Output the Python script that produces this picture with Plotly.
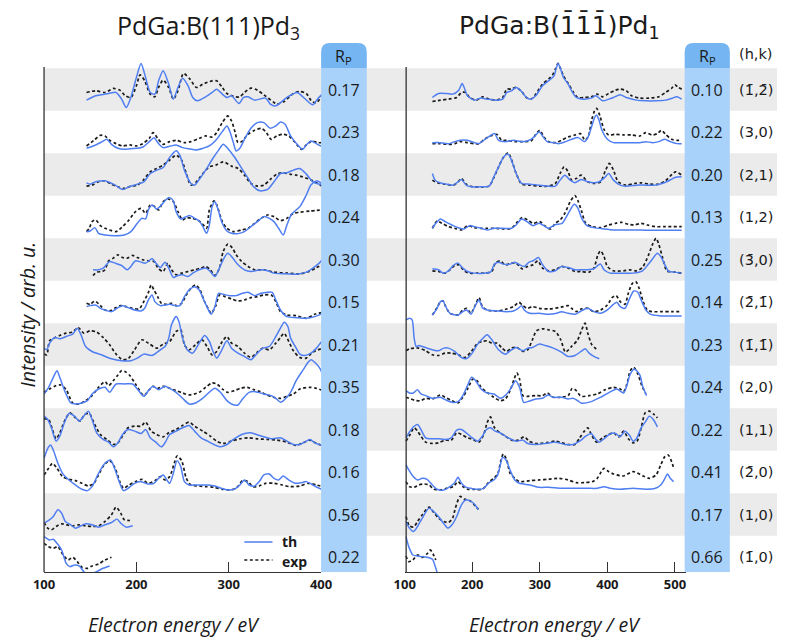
import plotly.graph_objects as go

# ---------------- data (energy in eV, intensity in arb. u.; one row = 127.5 arb. u.) ----------------
row_labels_hk = ["(1\u0304,2\u0304)", "(3,0)", "(2,1)", "(1,2)", "(3\u0304,0)", "(2\u0304,1\u0304)",
                 "(1\u0304,1\u0304)", "(2,0)", "(1,1)", "(2\u0304,0)", "(1,0)", "(1\u0304,0)"]
rp_left = [0.17, 0.23, 0.18, 0.24, 0.30, 0.15, 0.21, 0.35, 0.18, 0.16, 0.56, 0.22]
rp_right = [0.10, 0.22, 0.20, 0.13, 0.25, 0.14, 0.23, 0.24, 0.22, 0.41, 0.17, 0.66]
ticks_left = [100, 200, 300, 400]
ticks_right = [100, 200, 300, 400, 500]

L01_th = [(146,32),(156,45),(170,52),(178,55),(184,35),(189,10),(194,40),(200,100),(205,142),(209,110),(215,55),(220,50),(224,90),(229,120),(235,80),(240,35),(245,70),(250,98),(256,75),(261,40),(266,30),(275,42),(282,55),(287,65),(293,50),(298,40),(303,45),(311,22),(316,40),(321,42),(328,32),(340,38),(345,20),(351,15),(363,40),(374,55),(381,40),(391,18),(396,35),(402,52)]
L01_exp = [(146,55),(156,60),(166,55),(175,67),(182,62),(188,45),(194,40),(200,75),(204,108),(209,90),(215,50),(220,42),(224,70),(229,92),(235,70),(240,35),(245,60),(251,112),(258,95),(265,70),(272,80),(282,90),(287,90),(293,70),(298,52),(307,42),(312,42),(317,55),(324,68),(331,62),(338,48),(349,25),(352,20),(360,28),(370,52),(377,58),(384,52),(390,28),(395,25),(402,50)]
L02_th = [(146,15),(156,25),(163,35),(168,42),(173,27),(180,15),(187,12),(194,14),(201,15),(207,19),(214,35),(219,47),(224,29),(229,17),(236,21),(243,25),(250,17),(258,13),(265,10),(272,15),(279,22),(286,39),(293,65),(298,82),(301,67),(305,32),(308,7),(312,15),(317,42),(324,75),(331,92),(338,92),(345,75),(351,82),(356,94),(361,87),(367,52),(374,27),(380,12),(384,25),(389,37),(396,27),(402,19)]
L02_exp = [(146,22),(154,39),(161,54),(166,52),(171,39),(178,29),(185,22),(193,25),(200,22),(207,29),(214,45),(218,62),(223,45),(229,27),(236,35),(243,39),(252,32),(259,35),(268,45),(275,52),(282,49),(287,62),(293,92),(299,112),(303,97),(307,62),(310,32),(314,35),(321,57),(328,69),(335,75),(340,65),(346,42),(352,52),(359,57),(365,52),(372,32),(379,12),(384,25),(390,37),(396,32),(402,32)]
L03_th = [(146,39),(150,35),(156,42),(166,45),(177,32),(185,19),(192,27),(201,35),(208,42),(215,67),(222,77),(229,85),(236,115),(243,135),(247,122),(252,77),(259,37),(263,32),(268,49),(275,77),(282,109),(289,137),(294,155),(299,142),(306,117),(313,87),(320,57),(327,27),(334,15),(342,19),(349,42),(356,67),(363,69),(370,77),(377,82),(384,65),(391,42),(402,32)]
L03_exp = [(146,29),(152,32),(159,42),(166,45),(173,35),(180,27),(187,22),(194,29),(201,32),(208,49),(215,72),(222,82),(229,92),(236,107),(243,122),(249,107),(254,67),(259,32),(265,42),(272,67),(279,87),(286,92),(294,102),(303,89),(310,82),(317,62),(324,37),(331,29),(338,32),(345,49),(352,65),(359,69),(366,65),(373,62),(380,57),(391,45),(402,27)]
L04_th = [(146,20),(150,22),(155,32),(159,15),(166,10),(177,8),(187,10),(194,20),(201,45),(206,60),(210,58),(213,85),(217,100),(222,88),(227,100),(233,118),(236,122),(240,112),(243,80),(248,58),(254,65),(258,68),(263,60),(268,52),(272,35),(276,15),(279,40),(282,95),(285,110),(288,90),(293,45),(298,22),(303,15),(310,14),(317,20),(324,35),(331,50),(338,65),(344,60),(349,50),(354,30),(359,10),(363,40),(368,72),(377,95),(384,130),(389,160),(395,172),(399,168),(402,160)]
L04_exp = [(146,20),(149,30),(152,50),(156,55),(161,38),(166,30),(171,25),(178,20),(185,35),(192,55),(199,80),(205,90),(210,75),(215,100),(220,95),(224,85),(229,110),(234,118),(240,110),(245,80),(250,55),(254,62),(260,60),(266,55),(271,45),(276,30),(279,85),(284,112),(287,100),(293,50),(298,30),(305,20),(314,25),(321,30),(328,45),(335,60),(342,70),(349,65),(356,53),(363,60),(370,75),(377,78),(388,82),(402,85)]
L05_th = [(153,33),(159,33),(164,38),(168,50),(171,58),(177,53),(184,46),(190,33),(194,43),(199,60),(205,56),(210,53),(217,66),(222,50),(226,40),(231,56),(235,38),(240,10),(245,16),(250,18),(256,13),(261,23),(268,33),(275,38),(280,28),(285,13),(289,33),(294,63),(299,83),(305,66),(310,48),(317,33),(324,28),(335,33),(342,30),(349,23),(359,21),(373,20),(384,26),(391,38),(398,53),(402,66)]
L05_exp = [(153,16),(157,26),(163,28),(166,33),(170,60),(175,68),(180,78),(185,70),(190,68),(196,76),(201,70),(207,63),(213,60),(219,58),(224,36),(229,28),(234,53),(238,33),(243,18),(249,23),(256,28),(263,33),(270,38),(275,43),(280,33),(285,16),(290,38),(294,88),(299,110),(304,98),(308,78),(314,58),(321,43),(328,33),(338,33),(349,26),(363,23),(377,21),(387,28),(394,38),(402,50)]
L06_th = [(146,50),(150,53),(156,55),(161,45),(166,40),(173,35),(180,47),(185,53),(191,47),(198,40),(205,37),(209,45),(213,70),(217,85),(220,65),(226,53),(231,55),(236,57),(242,53),(247,53),(252,80),(257,100),(263,110),(268,100),(273,70),(278,40),(281,27),(285,50),(289,90),(294,87),(301,83),(308,83),(315,90),(321,93),(328,83),(335,90),(342,93),(347,93),(351,70),(356,40),(363,20),(373,17),(384,15),(393,20),(402,30)]
L06_exp = [(146,60),(150,57),(155,67),(161,53),(166,40),(171,37),(178,47),(183,53),(189,50),(196,45),(203,43),(208,65),(213,93),(216,115),(219,100),(223,80),(227,60),(233,57),(238,60),(243,53),(249,60),(254,85),(259,105),(264,115),(269,100),(273,70),(278,43),(281,30),(286,53),(290,85),(296,80),(303,73),(310,67),(317,70),(324,77),(331,80),(338,85),(346,85),(351,65),(356,35),(363,25),(373,23),(384,15),(393,27),(402,33)]
L07_th = [(100,53),(103,48),(106,68),(112,85),(117,81),(124,88),(131,95),(136,113),(140,93),(145,58),(152,43),(162,33),(173,21),(184,15),(194,15),(201,23),(208,35),(217,31),(226,48),(231,58),(235,83),(238,123),(243,148),(246,133),(250,83),(255,48),(261,38),(268,68),(274,91),(279,73),(283,43),(287,23),(292,45),(298,75),(303,53),(310,38),(317,28),(324,18),(330,35),(337,53),(344,58),(351,88),(356,113),(360,131),(364,118),(367,83),(372,58),(377,35),(382,31),(389,38),(395,53),(402,78)]
L07_exp = [(100,35),(103,33),(106,75),(112,85),(117,91),(124,98),(131,101),(137,115),(143,98),(150,105),(157,101),(164,85),(171,63),(178,35),(185,18),(191,21),(198,48),(206,78),(213,68),(222,53),(229,65),(236,73),(243,103),(248,108),(252,63),(257,48),(264,63),(271,78),(277,55),(282,33),(287,43),(293,73),(298,88),(303,68),(310,58),(317,38),(324,25),(331,41),(337,53),(344,48),(351,68),(356,85),(360,98),(365,73),(370,45),(377,25),(384,23),(391,41),(402,53)]
L08_th = [(100,43),(105,63),(110,93),(114,113),(117,93),(123,48),(129,16),(134,13),(141,16),(147,23),(152,43),(159,58),(166,63),(171,48),(178,73),(187,73),(196,73),(201,58),(208,36),(213,53),(218,66),(224,56),(231,66),(236,60),(243,48),(250,30),(257,13),(264,16),(271,28),(278,46),(285,60),(291,48),(298,23),(303,13),(310,10),(315,28),(322,48),(329,50),(338,43),(346,38),(351,30),(356,18),(363,33),(368,53),(373,83),(380,113),(386,138),(389,146),(395,133),(399,118),(402,98)]
L08_exp = [(100,48),(106,58),(113,68),(118,70),(124,56),(131,16),(138,13),(145,23),(152,38),(159,63),(166,80),(170,68),(175,83),(180,100),(184,113),(188,110),(193,98),(199,73),(208,38),(213,53),(218,66),(223,60),(229,66),(236,60),(243,53),(250,46),(257,40),(268,48),(275,63),(282,76),(287,73),(294,56),(299,48),(306,53),(313,60),(320,63),(327,56),(334,50),(341,40),(348,33),(356,30),(363,36),(370,43),(377,58),(387,63),(395,60),(402,53)]
L09_th = [(100,104),(104,94),(108,69),(113,29),(117,44),(122,84),(127,112),(133,104),(138,89),(143,104),(148,119),(152,94),(157,54),(164,34),(170,26),(175,12),(180,24),(185,49),(191,64),(198,59),(205,52),(210,64),(215,39),(221,26),(227,12),(231,24),(236,49),(243,59),(250,69),(257,76),(263,59),(270,39),(277,29),(284,19),(291,12),(298,19),(305,34),(314,49),(323,54),(330,49),(338,42),(346,36),(356,39),(363,29),(370,19),(377,19),(384,29),(388,34),(393,24),(398,19),(402,16)]
L09_exp = [(100,96),(105,94),(109,64),(113,36),(117,54),(123,94),(128,114),(134,99),(139,89),(144,109),(149,112),(154,84),(161,49),(168,34),(175,19),(180,24),(185,44),(191,69),(198,74),(205,74),(210,86),(216,59),(222,49),(229,42),(235,54),(243,64),(250,76),(257,86),(263,74),(272,59),(280,44),(287,29),(294,22),(303,29),(312,36),(321,39),(331,36),(342,34),(352,32),(363,26),(373,16),(382,26),(388,32),(395,22),(402,16)]
L10_th = [(100,105),(104,135),(107,145),(110,130),(115,90),(120,60),(127,40),(134,25),(141,12),(147,8),(152,20),(159,60),(166,90),(172,100),(177,70),(182,30),(186,8),(191,15),(198,30),(205,35),(212,28),(219,30),(224,45),(229,55),(233,40),(236,30),(240,60),(244,98),(248,80),(252,35),(257,25),(264,25),(271,25),(278,25),(285,22),(292,15),(299,10),(306,12),(312,25),(317,40),(322,25),(328,22),(333,35),(338,55),(344,58),(349,45),(354,40),(359,52),(365,40),(372,30),(379,32),(384,35),(391,25),(398,15),(402,10)]
L10_exp = [(100,55),(105,75),(109,90),(114,75),(120,50),(127,42),(134,38),(141,30),(148,22),(154,30),(159,55),(165,85),(171,98),(177,75),(182,35),(186,15),(192,25),(199,35),(206,42),(213,30),(220,38),(226,50),(231,40),(236,50),(241,90),(244,112),(249,98),(254,45),(259,25),(268,22),(275,20),(284,18),(293,12),(301,10),(308,15),(315,38),(321,35),(326,20),(333,22),(340,30),(349,30),(358,25),(366,20),(377,22),(386,30),(395,25),(402,20)]
L11_th = [(100,38),(105,46),(110,58),(115,78),(119,68),(123,43),(129,33),(134,23),(140,30),(145,36),(152,33),(159,26),(166,33),(173,40),(179,50),(183,38),(189,26),(196,30)]
L11_exp = [(100,40),(104,23),(108,18),(113,28),(119,36),(124,33),(131,30),(138,33),(145,30),(152,28),(159,30),(166,43),(173,63),(178,86),(183,68),(187,48),(196,46)]
L12_th = [(100,125),(103,120),(106,115),(110,117),(114,105),(119,85),(124,45),(128,35),(133,40),(138,37),(143,20),(147,10),(152,15),(157,20),(164,30),(171,37)]
L12_exp = [(100,105),(105,95),(110,90),(115,95),(120,73),(126,55),(131,63),(136,50),(141,33),(147,30),(152,37),(159,43),(166,55),(173,63)]

R01_th = [(141,40),(150,52),(162,52),(171,50),(180,62),(185,82),(188,70),(193,45),(203,32),(212,38),(222,35),(236,32),(245,35),(251,55),(258,60),(265,70),(273,58),(280,40),(287,35),(294,45),(304,75),(313,90),(321,105),(324,125),(327,142),(330,130),(335,100),(342,80),(347,60),(354,40),(364,35),(376,38),(383,45),(393,30),(402,35),(409,40),(419,48),(428,40),(443,32),(457,30),(471,30),(486,32),(495,37),(503,42),(510,35)]
R01_exp = [(141,28),(153,32),(165,35),(177,40),(184,55),(190,55),(196,40),(206,32),(215,42),(225,35),(236,32),(245,40),(251,65),(258,65),(265,70),(273,58),(280,40),(287,35),(294,50),(304,80),(313,95),(319,108),(323,125),(327,142),(330,130),(335,105),(342,82),(349,58),(356,40),(366,40),(376,42),(385,50),(393,42),(402,52),(412,62),(419,65),(428,60),(436,45),(448,38),(462,38),(476,42),(486,55),(495,67),(500,78),(505,70),(510,65)]
R02_th = [(141,32),(152,32),(165,29),(174,35),(182,39),(193,39),(203,32),(210,29),(217,39),(224,49),(233,59),(239,39),(249,35),(261,39),(275,35),(287,42),(293,52),(299,65),(304,52),(311,35),(321,32),(328,29),(338,35),(347,42),(357,47),(366,35),(371,47),(377,82),(381,107),(384,115),(388,97),(392,69),(400,42),(409,32),(419,32),(428,32),(438,32),(448,32),(457,35),(467,32),(476,35),(485,42),(493,35),(503,29),(510,29)]
R02_exp = [(141,29),(152,29),(165,27),(174,29),(182,35),(193,32),(203,29),(210,29),(218,42),(227,52),(236,57),(244,39),(251,39),(263,35),(275,35),(287,37),(294,57),(300,69),(306,49),(313,35),(323,32),(332,39),(342,49),(352,55),(360,59),(367,39),(372,52),(377,102),(381,127),(384,135),(389,112),(395,72),(402,55),(412,57),(424,55),(436,55),(448,52),(457,62),(466,55),(474,59),(480,69),(486,57),(495,42),(503,39),(510,39)]
R03_th = [(141,67),(145,47),(152,39),(162,35),(172,32),(179,42),(184,49),(191,32),(198,27),(213,27),(225,29),(232,57),(239,87),(246,115),(253,125),(258,107),(265,67),(273,37),(285,35),(299,32),(313,29),(323,29),(330,47),(337,62),(345,47),(352,39),(361,49),(371,42),(380,39),(388,42),(396,55),(402,67),(409,47),(419,32),(428,29),(443,32),(457,32),(471,32),(481,37),(491,45),(500,55),(510,57)]
R03_exp = [(141,47),(148,39),(160,35),(172,32),(179,42),(184,52),(191,35),(201,27),(213,27),(225,29),(232,55),(239,87),(246,115),(253,129),(258,109),(265,67),(273,35),(285,32),(299,29),(313,29),(323,37),(330,67),(336,87),(342,72),(347,47),(354,52),(361,62),(371,42),(380,37),(390,42),(397,75),(403,97),(409,77),(416,42),(428,32),(440,37),(450,39),(462,35),(476,35),(486,45),(496,65),(501,72),(510,62)]
R04_th = [(141,30),(146,45),(153,58),(160,50),(170,40),(179,32),(188,28),(196,38),(203,35),(213,30),(222,25),(232,30),(246,30),(258,30),(265,40),(273,58),(281,50),(290,38),(299,45),(306,38),(313,30),(322,40),(333,45),(338,60),(345,85),(351,102),(356,92),(362,60),(370,38),(380,32),(395,28),(409,25),(428,25),(448,25),(467,24),(486,24),(510,24)]
R04_exp = [(141,30),(148,52),(155,45),(165,35),(174,30),(184,25),(193,38),(203,32),(213,30),(222,30),(232,30),(246,28),(258,30),(265,45),(274,62),(282,55),(290,45),(300,50),(309,35),(316,28),(323,45),(330,55),(337,75),(345,110),(352,128),(357,110),(362,80),(368,45),(378,35),(390,32),(402,40),(412,45),(421,48),(431,42),(440,40),(450,45),(459,40),(471,35),(486,35),(510,35)]
R05_th = [(141,36),(150,33),(157,23),(165,30),(172,46),(179,53),(186,38),(193,28),(203,23),(218,23),(227,26),(233,50),(239,56),(246,50),(256,50),(263,56),(270,48),(277,43),(284,56),(290,60),(298,70),(304,48),(313,28),(323,30),(332,43),(342,40),(352,33),(361,33),(371,33),(380,36),(386,46),(390,50),(395,33),(404,23),(419,23),(438,23),(452,30),(460,48),(467,66),(474,83),(479,73),(484,53),(491,28),(500,26),(510,23)]
R05_exp = [(141,30),(150,28),(160,23),(167,33),(174,46),(180,48),(188,30),(196,23),(208,23),(220,23),(229,28),(234,53),(241,60),(249,48),(258,53),(265,53),(274,36),(282,43),(290,48),(297,60),(304,38),(313,30),(323,33),(332,43),(342,38),(352,28),(361,28),(373,26),(380,38),(386,78),(390,90),(395,73),(400,43),(409,30),(424,30),(433,33),(443,30),(452,40),(461,78),(467,110),(472,128),(476,110),(482,68),(488,30),(500,26),(510,23)]
R06_th = [(141,25),(148,45),(153,65),(157,67),(160,53),(167,30),(179,25),(186,35),(192,40),(198,27),(205,55),(210,70),(215,47),(222,40),(237,37),(251,35),(261,37),(268,45),(273,53),(277,40),(285,30),(299,30),(313,27),(325,30),(332,35),(342,30),(352,27),(361,37),(371,45),(380,35),(390,30),(400,40),(409,57),(414,63),(419,50),(426,45),(433,75),(439,97),(445,93),(450,70),(457,40),(464,27),(476,23),(491,22),(510,22)]
R06_exp = [(141,25),(148,47),(153,65),(157,67),(160,53),(167,30),(179,25),(186,40),(192,45),(198,30),(205,57),(210,77),(215,50),(222,40),(237,37),(251,43),(261,50),(269,63),(274,55),(281,45),(289,50),(299,45),(313,43),(328,47),(335,50),(342,53),(347,45),(354,35),(361,43),(371,45),(380,35),(390,40),(400,55),(407,77),(413,83),(419,65),(426,57),(431,90),(437,120),(442,125),(447,105),(453,65),(459,40),(466,35),(481,35),(495,35),(510,35)]
R07_th = [(102,138),(107,143),(111,138),(114,83),(117,58),(121,61),(126,58),(133,53),(141,48),(150,45),(158,53),(165,53),(174,43),(184,25),(191,21),(198,33),(208,65),(215,81),(222,93),(229,78),(239,48),(249,35),(256,45),(265,55),(275,45),(282,53),(289,55),(299,65),(308,61),(320,53),(332,41),(342,28),(352,31),(361,43),(367,51),(373,38),(380,28),(388,21)]
R07_exp = [(102,45),(107,51),(114,53),(121,53),(131,45),(141,33),(150,31),(160,38),(169,38),(179,33),(189,25),(198,41),(208,68),(215,73),(222,75),(229,68),(237,68),(244,53),(251,43),(258,53),(266,55),(275,43),(282,48),(289,78),(295,105),(304,111),(313,108),(323,103),(331,78),(338,41),(347,58),(356,78),(362,108),(367,128),(371,98),(377,63),(383,51),(386,45)]
R08_th = [(102,53),(107,46),(113,46),(119,56),(124,43),(131,38),(141,30),(153,33),(160,26),(170,18),(179,20),(186,38),(193,68),(199,93),(205,83),(213,58),(222,46),(232,43),(242,30),(251,43),(258,63),(264,83),(270,63),(276,18),(282,20),(294,28),(304,30),(312,40),(320,33),(332,33),(342,28),(349,30),(356,23),(361,16),(376,20),(390,33),(405,50),(414,58),(424,46),(428,63),(434,103),(440,118),(448,100),(452,68),(458,38)]
R08_exp = [(102,33),(109,28),(117,23),(124,23),(131,30),(141,28),(153,40),(160,33),(170,23),(179,16),(186,33),(193,58),(201,88),(207,83),(213,63),(222,48),(232,33),(241,23),(249,28),(256,53),(262,88),(266,106),(270,88),(275,38),(282,36),(294,38),(304,38),(311,46),(320,33),(330,33),(342,38),(348,60),(354,53),(361,36),(373,38),(385,43),(397,56),(409,63),(419,58),(424,50),(429,73),(434,113),(439,123),(445,103),(451,68),(457,43)]
R09_th = [(102,39),(107,56),(113,72),(119,79),(124,64),(131,39),(141,36),(150,36),(160,34),(169,39),(177,62),(184,64),(191,54),(198,42),(208,29),(215,44),(221,64),(227,69),(234,59),(241,54),(249,44),(256,36),(265,29),(275,32),(282,22),(294,19),(309,22),(323,26),(337,19),(349,19),(359,29),(368,44),(376,52),(383,34),(388,26),(395,36),(405,52),(412,52),(419,42),(426,59),(433,46),(438,29),(443,36),(450,69),(457,89),(462,104),(468,94),(474,72)]
R09_exp = [(102,29),(108,49),(114,69),(119,59),(124,44),(131,26),(141,22),(150,24),(160,32),(169,32),(177,54),(184,49),(193,39),(201,34),(210,26),(217,49),(222,84),(227,102),(233,69),(241,54),(249,44),(258,32),(268,32),(277,42),(284,29),(294,22),(309,24),(323,29),(332,24),(342,19),(352,19),(359,39),(366,59),(371,69),(377,46),(384,26),(393,39),(402,49),(409,54),(417,42),(424,59),(431,36),(438,24),(444,29),(450,69),(456,114),(462,119),(469,109),(474,99)]
R10_th = [(102,85),(106,70),(112,52),(119,40),(126,45),(133,42),(141,25),(148,12),(158,10),(167,20),(174,32),(179,48),(184,30),(191,18),(198,15),(208,12),(217,15),(225,32),(232,40),(237,52),(241,80),(245,108),(250,100),(256,70),(263,40),(270,30),(285,25),(299,18),(313,18),(332,15),(352,15),(371,15),(385,15),(395,20),(404,15),(419,12),(438,15),(457,12),(471,15),(479,25),(484,40),(489,58),(493,45),(498,35)]
R10_exp = [(102,35),(107,20),(114,18),(121,25),(129,28),(136,25),(143,12),(153,10),(162,15),(172,20),(179,35),(186,20),(193,12),(203,12),(215,12),(225,35),(232,45),(238,60),(242,95),(246,118),(251,100),(256,60),(263,45),(270,35),(285,38),(299,40),(313,42),(328,45),(342,40),(354,32),(366,32),(378,35),(385,45),(391,65),(395,75),(402,65),(409,58),(424,52),(438,65),(453,52),(462,45),(472,55),(479,85),(485,110),(490,115),(496,90),(498,75)]
R11_th = [(102,43),(107,23),(113,13),(119,28),(126,53),(136,83),(143,73),(150,58),(158,36),(164,23),(170,33),(177,58),(184,93),(191,108),(198,103),(204,93),(209,78)]
R11_exp = [(102,58),(107,30),(113,26),(119,43),(126,63),(136,86),(143,70),(150,53),(158,43),(165,40),(171,53),(175,83),(182,118),(188,110),(196,106),(203,93),(209,80)]
R12_th = [(102,125),(106,95),(112,70),(119,67),(126,65),(133,63),(141,57),(145,37),(148,17)]
R12_exp = [(102,67),(106,50),(112,55),(119,70),(126,63),(133,73),(138,85),(142,73),(146,55)]

left_th = [L01_th, L02_th, L03_th, L04_th, L05_th, L06_th, L07_th, L08_th, L09_th, L10_th, L11_th, L12_th]
left_exp = [L01_exp, L02_exp, L03_exp, L04_exp, L05_exp, L06_exp, L07_exp, L08_exp, L09_exp, L10_exp, L11_exp, L12_exp]
right_th = [R01_th, R02_th, R03_th, R04_th, R05_th, R06_th, R07_th, R08_th, R09_th, R10_th, R11_th, R12_th]
right_exp = [R01_exp, R02_exp, R03_exp, R04_exp, R05_exp, R06_exp, R07_exp, R08_exp, R09_exp, R10_exp, R11_exp, R12_exp]

# ---------------- layout geometry ----------------
W, H = 788, 637
ROW = 127.5           # arb. u. per row
NROW = 12
FONT = "Open Sans"
MARKFONT = "DejaVu Sans"   # good combining-macron support
BLUE = "#4f7ef2"
GRAY = "#ebebeb"
RP_BODY = "#a9d2fb"
RP_HEAD = "#74b5f2"

def px(x):  # pixel -> paper x
    return x / W

def py(y):  # pixel -> paper y
    return 1 - y / H

row_bottom_px = 578.3
px_per_unit = 1 / 3.0
def ydata(ypix):
    return (row_bottom_px - ypix) / px_per_unit

y_axis_bottom = ydata(572.3)
y_axis_top = ydata(40)

fig = go.Figure()

def add_curves(rows_th, rows_exp, xa):
    for i in range(NROW):
        off = (NROW - 1 - i) * ROW
        for data, style in ((rows_exp[i], "exp"), (rows_th[i], "th")):
            xs = [p[0] for p in data]
            ys = [p[1] + off for p in data]
            if style == "th":
                line = dict(color=BLUE, width=1.5, shape="spline", smoothing=0.7)
            else:
                line = dict(color="#1a1a1a", width=1.7, dash="3px,2.5px", shape="spline", smoothing=0.7)
            fig.add_trace(go.Scatter(x=xs, y=ys, mode="lines", line=line, xaxis=xa, yaxis="y",
                                     showlegend=False, hoverinfo="skip"))

add_curves(left_th, left_exp, "x")
add_curves(right_th, right_exp, "x2")

shapes = []
for i in range(NROW):
    if i % 2 == 0:
        shapes.append(dict(type="rect", xref="paper", yref="y", x0=px(34), x1=1.0,
                           y0=(NROW - 1 - i) * ROW, y1=(NROW - i) * ROW,
                           fillcolor=GRAY, line_width=0, layer="below"))

def rp_column(x0p, x1p):
    top_band = NROW * ROW
    shapes.append(dict(type="rect", xref="paper", yref="y", x0=px(x0p), x1=px(x1p),
                       y0=y_axis_bottom, y1=top_band, fillcolor=RP_BODY, line_width=0, layer="below"))
    yt = ydata(43)
    rx, ry = px(9), 9 / px_per_unit
    a, b = px(x0p), px(x1p)
    path = (f"M {a},{top_band} L {a},{yt-ry} Q {a},{yt} {a+rx},{yt} L {b-rx},{yt} "
            f"Q {b},{yt} {b},{yt-ry} L {b},{top_band} Z")
    shapes.append(dict(type="path", xref="paper", yref="y", path=path,
                       fillcolor=RP_HEAD, line_width=0, layer="below"))

rp_column(319, 366)
rp_column(693, 739.5)

for xv in (34, 406.5):
    shapes.append(dict(type="line", xref="paper", yref="y", x0=px(xv), x1=px(xv),
                       y0=y_axis_bottom, y1=ydata(67), line=dict(color="#333", width=1.3)))

shapes.append(dict(type="line", xref="paper", yref="paper", x0=px(240), x1=px(269),
                   y0=py(542), y1=py(542), line=dict(color=BLUE, width=1.5)))
shapes.append(dict(type="line", xref="paper", yref="paper", x0=px(240), x1=px(269),
                   y0=py(560), y1=py(560), line=dict(color="#1a1a1a", width=1.7, dash="3px,2.5px")))

ann = []
def text(x, y, s, size, **kw):
    d = dict(x=px(x), y=py(y), xref="paper", yref="paper", text=s, showarrow=False,
             font=dict(family=kw.pop("family", FONT), size=size, color=kw.pop("color", "#1a1a1a"),
                       weight=kw.pop("weight", "normal"), style=kw.pop("style", "normal")),
             xanchor=kw.pop("xanchor", "center"), yanchor=kw.pop("yanchor", "middle"))
    d.update(kw)
    ann.append(d)

for i in range(NROW):
    yc = 68.3 + 42.5 * (i + 0.5)
    text(342.5, yc, f"{rp_left[i]:.2f}", 16)
    text(716.3, yc, f"{rp_right[i]:.2f}", 16)
    text(766, yc, row_labels_hk[i], 14.5, family=MARKFONT)

text(342.5, 56, "R<sub>P</sub>", 16)
text(716.3, 56, "R<sub>P</sub>", 16)
text(766, 54, "(h,k)", 14.5, family=MARKFONT)

text(203, 26, "PdGa:B(111)Pd<sub>3</sub>", 25)
text(564, 26, "PdGa:B(1\u03041\u03041\u0304)Pd<sub>1</sub>", 25, family=MARKFONT)

text(168, 624, "Electron energy / eV", 19.5, style="italic")
text(560, 624, "Electron energy / eV", 19.5, style="italic")
text(16, 315, "Intensity / arb. u.", 19.5, style="italic", textangle=-90)

text(277, 541, "th", 14, weight="bold", xanchor="left")
text(277, 561, "exp", 14, weight="bold", xanchor="left")

axis_common = dict(ticks="inside", ticklen=10, tickwidth=1.4, tickcolor="#333",
                   showline=True, linecolor="#333", linewidth=1.4, showgrid=False, zeroline=False,
                   tickfont=dict(family=FONT, size=13, color="#1a1a1a", weight="bold"),
                   anchor="y", fixedrange=True)

fig.update_layout(
    width=W, height=H, margin=dict(l=0, r=0, t=0, b=0),
    paper_bgcolor="white", plot_bgcolor="rgba(0,0,0,0)",
    xaxis=dict(domain=[px(34), px(319)], range=[100, 400], tickvals=ticks_left, **axis_common),
    xaxis2=dict(domain=[px(405), px(694)], range=[100, 100 + (694 - 405) / 0.695],
                tickvals=ticks_right, **axis_common),
    yaxis=dict(domain=[py(572.3), py(40)], range=[y_axis_bottom, y_axis_top], visible=False,
               fixedrange=True),
    shapes=shapes, annotations=ann, showlegend=False,
)

fig.write_html("out.html")
